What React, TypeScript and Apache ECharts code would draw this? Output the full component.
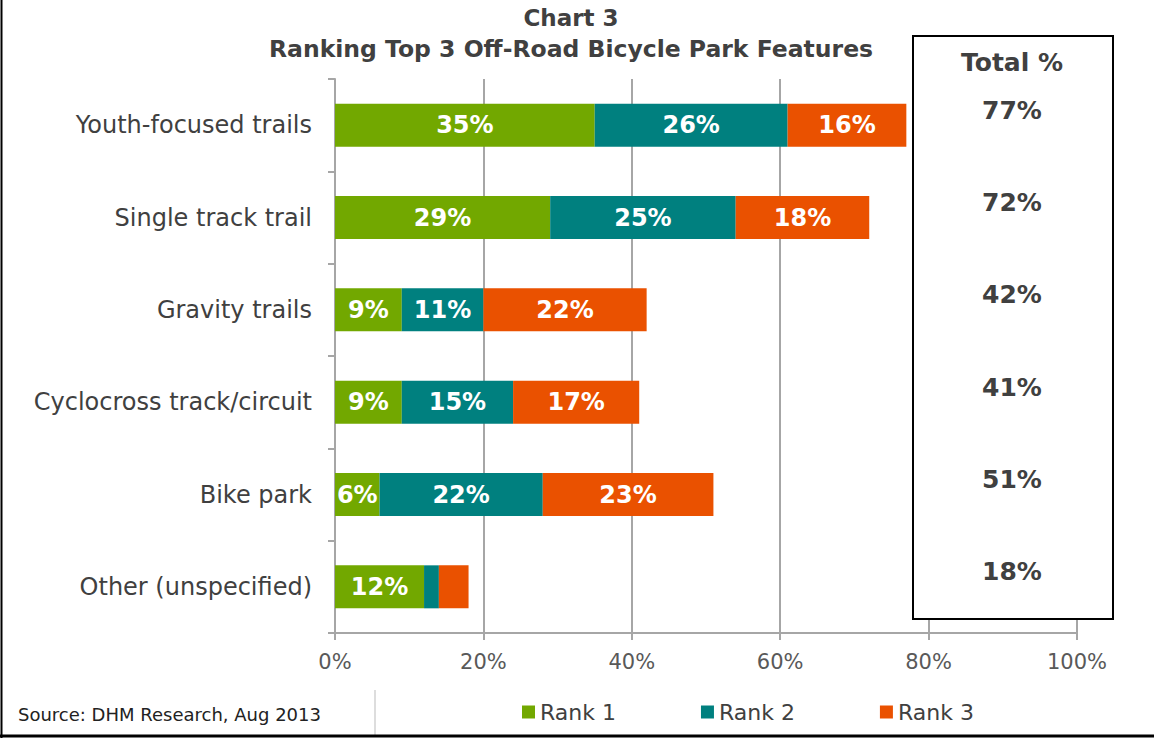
import React, { useEffect, useRef } from "react";
import * as echarts from "echarts";

const categories = [
  "Youth-focused trails",
  "Single track trail",
  "Gravity trails",
  "Cyclocross track/circuit",
  "Bike park",
  "Other (unspecified)",
];
const rank1 = [35, 29, 9, 9, 6, 12];
const rank2 = [26, 25, 11, 15, 22, 2];
const rank3 = [16, 18, 22, 17, 23, 4];
const totals = [77, 72, 42, 41, 51, 18];
const seriesNames = ["Rank 1", "Rank 2", "Rank 3"];
const colors = ["#72A800", "#00807F", "#EA5100"];
const xTicks = { min: 0, max: 100, interval: 20 };

const FONT = "'DejaVu Sans', Verdana, sans-serif";
const TEXT = "#404040";

export default function App() {
  const ref = useRef<HTMLDivElement>(null);
  useEffect(() => {
    if (!ref.current) return;
    const chart = echarts.init(ref.current, null, { renderer: "svg" });
    const mkSeries = (name: string, data: number[], color: string) => ({
      name,
      type: "bar",
      stack: "total",
      data,
      barWidth: 43,
      itemStyle: { color },
      label: {
        show: true,
        position: "inside",
        color: "#fff",
        fontFamily: FONT,
        fontWeight: "bold",
        fontSize: 24,
        formatter: (p: any) => (p.value >= 5 ? p.value + "%" : ""),
      },
    });
    chart.setOption({
      animation: false,
      textStyle: { fontFamily: FONT },
      grid: { left: 335, right: 77, top: 79, bottom: 105, containLabel: false },
      xAxis: {
        type: "value",
        min: xTicks.min,
        max: xTicks.max,
        interval: xTicks.interval,
        axisLine: { show: true, lineStyle: { color: "#A6A6A6", width: 2 } },
        axisTick: { show: true, length: 7, lineStyle: { color: "#A6A6A6", width: 2 } },
        splitLine: { show: true, lineStyle: { color: "#A6A6A6", width: 2 } },
        axisLabel: {
          formatter: "{value}%",
          color: "#595959",
          fontSize: 21,
          fontFamily: FONT,
          margin: 18,
        },
      },
      yAxis: {
        type: "category",
        inverse: true,
        data: categories,
        axisLine: { show: true, lineStyle: { color: "#A6A6A6", width: 2 } },
        axisTick: { show: true, length: 7, lineStyle: { color: "#A6A6A6", width: 2 } },
        axisLabel: { color: TEXT, fontSize: 24, fontFamily: FONT, margin: 23 },
      },
      legend: {
        left: 517,
        top: 696,
        itemWidth: 13,
        itemHeight: 13,
        itemGap: 85,
        icon: "rect",
        textStyle: { color: TEXT, fontSize: 22, fontFamily: FONT },
        data: seriesNames,
      },
      series: [
        mkSeries(seriesNames[0], rank1, colors[0]),
        mkSeries(seriesNames[1], rank2, colors[1]),
        mkSeries(seriesNames[2], rank3, colors[2]),
      ],
    });

    const totalTexts = totals.map((t, i) => {
      const y = chart.convertToPixel({ yAxisIndex: 0 }, categories[i]) as number;
      return {
        type: "text",
        z: 101,
        x: 1012,
        y: y - 15,
        style: {
          text: t + "%",
          fill: TEXT,
          font: `bold 25px ${FONT}`,
          align: "center",
          verticalAlign: "middle",
        },
      };
    });

    chart.setOption({
      graphic: [
        {
          type: "text",
          z: 100,
          x: 571,
          y: 18,
          style: {
            text: "Chart 3",
            fill: TEXT,
            font: `bold 23px ${FONT}`,
            align: "center",
            verticalAlign: "middle",
          },
        },
        {
          type: "text",
          z: 100,
          x: 571,
          y: 49,
          style: {
            text: "Ranking Top 3 Off-Road Bicycle Park Features",
            fill: TEXT,
            font: `bold 23.5px ${FONT}`,
            align: "center",
            verticalAlign: "middle",
          },
        },
        {
          type: "rect",
          z: 100,
          shape: { x: 913, y: 36, width: 200, height: 583 },
          style: { fill: "#fff", stroke: "#000", lineWidth: 2 },
        },
        {
          type: "text",
          z: 101,
          x: 1012,
          y: 62,
          style: {
            text: "Total %",
            fill: TEXT,
            font: `bold 25px ${FONT}`,
            align: "center",
            verticalAlign: "middle",
          },
        },
        ...totalTexts,
        {
          type: "text",
          z: 100,
          x: 18,
          y: 714,
          style: {
            text: "Source: DHM Research, Aug 2013",
            fill: "#222",
            font: `18px ${FONT}`,
            align: "left",
            verticalAlign: "middle",
          },
        },
        {
          type: "line",
          z: 100,
          shape: { x1: 375, y1: 690, x2: 375, y2: 735 },
          style: { stroke: "#BBBBBB", lineWidth: 1 },
        },
        {
          type: "line",
          z: 100,
          shape: { x1: 1.5, y1: 0, x2: 1.5, y2: 738 },
          style: { stroke: "#000", lineWidth: 2 },
        },
        {
          type: "line",
          z: 100,
          shape: { x1: 0, y1: 736, x2: 1154, y2: 736 },
          style: { stroke: "#000", lineWidth: 3 },
        },
      ],
    });
    return () => chart.dispose();
  }, []);
  return (
    <div
      ref={ref}
      style={{ position: "fixed", left: 0, top: 0, width: 1154, height: 738, background: "#fff" }}
    />
  );
}
